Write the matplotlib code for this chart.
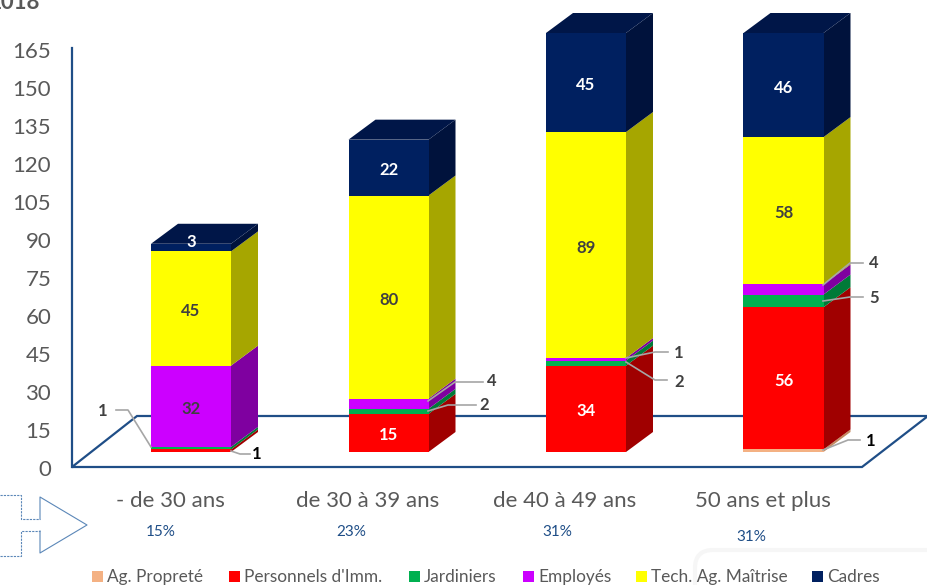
import matplotlib
matplotlib.use('Agg')
import matplotlib.pyplot as plt
from matplotlib.patches import Polygon, Rectangle, FancyBboxPatch
from matplotlib.transforms import ScaledTranslation

plt.rcParams['font.family'] = ['Lato', 'DejaVu Sans']

# values
categories = ['- de 30 ans', 'de 30 à 39 ans', 'de 40 à 49 ans', '50 ans et plus']
percents = ['15%', '23%', '31%', '31%']
propreté = [0, 0, 0, 1]
personnels = [1, 15, 34, 56]
jardiniers = [1, 2, 2, 5]
employes = [32, 4, 1, 4]
tech = [45, 80, 89, 58]
cadres = [3, 22, 45, 46]
y_ticks = list(range(0, 166, 15))
y_max = 165

series_names = ['Ag. Propreté', "Personnels d'Imm.", 'Jardiniers', 'Employés', 'Tech. Ag. Maîtrise', 'Cadres']
series_values = [propreté, personnels, jardiniers, employes, tech, cadres]
front_colors = ['#F4B183', '#FF0000', '#00B050', '#CC00FF', '#FFFF00', '#002060']
side_colors = ['#C48A60', '#A00000', '#007A38', '#7F00A0', '#A6A600', '#00123C']
top_colors = ['#D9A070', '#C00000', '#009040', '#A000C8', '#D0D000', '#001648']
label_colors = ['#404040', '#FFFFFF', '#FFFFFF', '#404040', '#404040', '#FFFFFF']

BLUE = '#1F4E87'
GREY = '#595959'
W, H = 928, 585

fig = plt.figure(figsize=(W / 100, H / 100), dpi=100, facecolor='white')

# pixel overlays, one under the bars and one above
bg = fig.add_axes([0, 0, 1, 1], zorder=0)
fg = fig.add_axes([0, 0, 1, 1], zorder=3)
for a in (bg, fg):
    a.set_xlim(0, W)
    a.set_ylim(H, 0)
    a.axis('off')

# main axes: 0 at y=467px, 165 at y=48px, categories 197.5px apart
x0_px, y0_px, ytop_px = 72, 467, 48
step_px = 197.5
first_px = 191
ax = fig.add_axes([x0_px / W, (H - y0_px) / H, (W - x0_px) / W, (y0_px - ytop_px) / H], zorder=1)
ax.patch.set_alpha(0)
ax.set_xlim((x0_px - first_px) / step_px, (W - first_px) / step_px)
ax.set_ylim(0, y_max)
px_per_unit = (y0_px - ytop_px) / y_max

half_w = 40 / step_px
dx = 27 / step_px
dy = 20 / px_per_unit
base = 15 / px_per_unit

for i in range(len(categories)):
    bottom = 0
    top_idx = None
    for s, vals in enumerate(series_values):
        v = vals[i]
        if v == 0:
            continue
        # the value axis stops at 165, taller stacks are cut there
        top = min(bottom + v, y_max)
        y1, y2 = base + bottom, base + top
        l, r = i - half_w, i + half_w
        ax.add_patch(Polygon([(r, y1), (r + dx, y1 + dy), (r + dx, y2 + dy), (r, y2)],
                             fc=side_colors[s], ec='none', clip_on=False))
        ax.add_patch(Rectangle((l, y1), r - l, y2 - y1, fc=front_colors[s], ec='none', clip_on=False))
        # thin segments get a leader line instead, the 3 sits high on its bar
        if v == 3 or v > 5:
            ymid = (y1 + y2) / 2 - 2.5 / px_per_unit
            if v == 3:
                ymid += 8.5 / px_per_unit
            ax.text(i, ymid, str(v), ha='center', va='center', fontsize=12, fontweight='bold',
                    color=label_colors[s], zorder=5)
        bottom = top
        top_idx = s
    y2 = base + bottom
    ax.add_patch(Polygon([(l, y2), (r, y2), (r + dx, y2 + dy), (l + dx, y2 + dy)],
                         fc=top_colors[top_idx], ec='none', clip_on=False))

ax.set_yticks(y_ticks)
ax.set_xticks([i - 21 / step_px for i in range(len(categories))])
ax.set_xticklabels(categories)
ax.tick_params(axis='x', length=0, pad=17, labelsize=16, labelcolor=GREY)
ax.tick_params(axis='y', length=0, pad=15, labelsize=16, labelcolor=GREY)
# y labels sit a little under their tick position
nudge = ScaledTranslation(0, -1.5 / 100, fig.dpi_scale_trans)
for label in ax.get_yticklabels():
    label.set_transform(label.get_transform() + nudge)
for name in ['top', 'right', 'bottom']:
    ax.spines[name].set_visible(False)
ax.spines['left'].set_color(BLUE)
ax.spines['left'].set_linewidth(1.6)

# floor of the 3D chart
bg.add_patch(Polygon([(72, 467), (137, 416), (928, 416), (862, 467)], closed=True, fc='white',
                     ec=BLUE, lw=1.6, clip_on=False))

# faint white card at the bottom right
bg.add_patch(FancyBboxPatch((695, 550), 260, 60, boxstyle='round,pad=0,rounding_size=18',
                            fc='white', ec='#F6F6F6', lw=3))

# arrow shape on the left
bg.plot([0, 21, 21, 40], [495, 495, 519, 519], color='#5B87B8', lw=0.8, ls=(0, (2, 1)))
bg.plot([0, 21, 21, 40], [556, 556, 531, 531], color='#5B87B8', lw=0.8, ls=(0, (2, 1)))
bg.plot([40, 40, 87, 40, 40], [519, 497, 525, 553, 531], color='#5B87B8', lw=0.8)

# cut title at the very top
bg.text(40, 9, '2018', ha='right', va='baseline', fontsize=16, fontweight='bold', color=GREY, clip_on=True)

# percentages under the categories
for x, y, p in zip([161, 351, 557, 751], [532, 532, 532, 537], percents):
    bg.text(x, y, p, ha='center', va='center', fontsize=11, color=BLUE)

# leader lines and outside labels
leaders = [
    ([151, 128, 116], [447, 410, 410], 103, 411, '1', '#404040'),
    ([231, 240, 250], [451, 454, 454], 257, 454, '1', '#000000'),
    ([428, 448, 476], [411, 405, 405], 484, 405, '2', '#404040'),
    ([428, 455, 483], [401, 382, 382], 492, 381, '4', '#404040'),
    ([626, 655, 668], [358, 352, 352], 679, 353, '1', '#404040'),
    ([626, 655, 667], [362, 380, 380], 679, 382, '2', '#404040'),
    ([823, 850, 863], [285, 263, 263], 874, 263, '4', '#404040'),
    ([823, 850, 863], [301, 297, 297], 874, 298, '5', '#404040'),
    ([823, 848, 860], [450, 440, 440], 871, 441, '1', '#000000'),
]
for xs, ys, tx, ty, txt, col in leaders:
    fg.plot(xs, ys, color='#A6A6A6', lw=1.2)
    fg.text(tx, ty, txt, ha='center', va='center', fontsize=12, fontweight='bold', color=col)

# legend laid out by hand
legend_x = [92, 229, 409, 523, 636, 812]
for x, name, col in zip(legend_x, series_names, front_colors):
    fg.add_patch(Rectangle((x, 571), 11, 11, fc=col, ec='none'))
    fg.text(x + 15, 577, name, ha='left', va='center', fontsize=12.4, color=GREY)

fig.savefig('out.png', dpi=100)
